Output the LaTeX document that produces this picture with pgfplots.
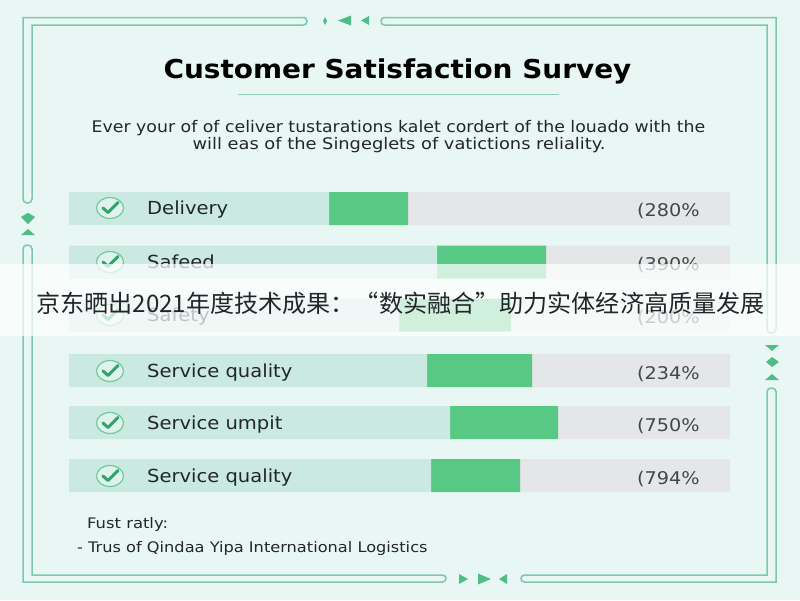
\documentclass[border=0pt]{standalone}
\usepackage{pgfplots}
\pgfplotsset{compat=1.18}
\usepackage{pgfplotstable}
\usepackage{fontspec}
\usepackage{graphicx}
\setmainfont{DejaVu Sans}
\newfontfamily\cjk{Noto Sans CJK SC}
\definecolor{bgc}{HTML}{E9F7F4}
\definecolor{tint}{HTML}{C9E9E1}
\definecolor{fillg}{HTML}{58C985}
\definecolor{track}{HTML}{E4E6E8}
\definecolor{frame}{HTML}{7FC6AC}
\definecolor{tri}{HTML}{4FBD88}
\definecolor{chk}{HTML}{2FA56C}
\definecolor{ink}{HTML}{22262A}
\pgfplotstableread{
y before done rest
208.5 260 79 322
262 368 109 184
315 330 112 219
370.5 358 105 198
422.5 381 108 172
475.5 362 89 210
}\bars
\newcommand{\fs}[1]{\fontsize{#1}{#1}\selectfont}
\newcommand{\wide}[2]{\scalebox{#1}[1]{#2}}
\begin{document}
\begin{tikzpicture}
\begin{scope}[x=1pt,y=-1pt]
\path[use as bounding box] (0,0) rectangle (800,600);
\fill[bgc] (0,0) rectangle (800,600);
\end{scope}
\begin{axis}[at={(0pt,0pt)},anchor=north west,scale only axis,width=800pt,height=600pt,
  xmin=-69,xmax=731,ymin=0,ymax=600,y dir=reverse,hide axis,
  xbar stacked,bar width=33pt,clip=false]
\addplot[draw=none,fill=tint,bar shift=0pt] table[x=before,y=y]{\bars};
\addplot[draw=none,fill=fillg,bar shift=0pt] table[x=done,y=y]{\bars};
\addplot[draw=none,fill=track,bar shift=0pt] table[x=rest,y=y]{\bars};
\end{axis}
\begin{scope}[x=1pt,y=-1pt]
% frame
\begin{scope}[draw=frame,line width=1.5pt,line join=miter]
\draw (300,17.5) [rounded corners=3.5pt] -- (307,17.5) -- (307,25) -- (300,25) [sharp corners] -- (32,25) -- (32,196) [rounded corners=4pt] -- (32,203) -- (23,203) -- (23,196) [sharp corners] -- (23,17.5) -- cycle;
\draw (23,252) [rounded corners=4pt] -- (23,245) -- (32,245) -- (32,252) [sharp corners] -- (32,575) -- (439,575) [rounded corners=3.5pt] -- (446,575) -- (446,582) -- (439,582) [sharp corners] -- (23,582) -- cycle;
\draw (528,582) [rounded corners=3.5pt] -- (521,582) -- (521,575) -- (528,575) [sharp corners] -- (767,575) -- (767,395) [rounded corners=4pt] -- (767,388) -- (776,388) -- (776,395) [sharp corners] -- (776,582) -- cycle;
\draw (776,326) [rounded corners=4pt] -- (776,333) -- (767,333) -- (767,326) [sharp corners] -- (767,25) -- (388,25) [rounded corners=3.5pt] -- (381,25) -- (381,17.5) -- (388,17.5) [sharp corners] -- (776,17.5) -- cycle;
\end{scope}
% ornaments
\fill[tri] (323,21) -- (325,17) -- (327,21) -- (325,25) -- cycle;
\fill[tri] (351,15.5) -- (351,25.5) -- (338,20.5) -- cycle;
\fill[tri] (369,16) -- (369,25) -- (361,20.5) -- cycle;
\fill[tri] (459,574) -- (459,584) -- (468,579) -- cycle;
\fill[tri] (478,573.5) -- (478,584.5) -- (491,579) -- cycle;
\fill[tri] (507,574) -- (507,584) -- (499,579) -- cycle;
\fill[tri] (21,217) -- (27.5,213) -- (28.5,213) -- (35,217) -- (28,224) -- cycle;
\fill[tri] (21,235) -- (35,235) -- (28,229) -- cycle;
\fill[tri] (765,345) -- (779,345) -- (772,351) -- cycle;
\fill[tri] (772,357) -- (779,362) -- (772,367) -- (766,362) -- cycle;
\fill[tri] (765,380) -- (779,380) -- (772,374) -- cycle;
% title
\node[font=\fs{26}\bfseries,text=black,inner sep=0pt,anchor=base] at (397.5,78) {\wide{1.074}{Customer Satisfaction Survey}};
\draw[color=frame!85,line width=1pt] (238,94) -- (559,94);
\node[font=\fs{16},text=ink,inner sep=0pt,anchor=base] at (398.5,132) {\wide{1.083}{Ever your of of celiver tustarations kalet cordert of the louado with the}};
\node[font=\fs{16},text=ink,inner sep=0pt,anchor=base] at (399,149) {\wide{1.113}{will eas of the Singeglets of vatictions reliality.}};
% icons
\foreach \cy in {208,262,315,371,423,476}{
  \draw[color=tri!80,fill=tint!60,line width=1.2pt] (110,\cy) ellipse [x radius=13.5pt,y radius=10.5pt];
  \draw[color=chk,line width=3pt,line join=round,line cap=round] (103,\cy) -- (108,\cy+4.5) -- (118,\cy-5.5);
}
% labels
\foreach \cy/\lab/\val in {208/Delivery/(280\%,262/Safeed/(390\%,315/Safety/(200\%,371/Service quality/(234\%,423/Service umpit/(750\%,476/Service quality/(794\%}{
  \node[font=\fs{18},text=ink,anchor=base west,inner sep=0pt] at (147,\cy+6) {\wide{1.085}{\lab}};
  \node[font=\fs{17.5},text=ink!85,anchor=base west,inner sep=0pt] at (637,\cy+8) {\wide{1.1}{\val}};
}
% footer
\node[font=\fs{14.5},text=ink,anchor=base west,inner sep=0pt] at (87,528) {\wide{1.13}{Fust ratly:}};
\node[font=\fs{14.5},text=ink,anchor=base west,inner sep=0pt] at (77,552) {\wide{1.117}{- Trus of Qindaa Yipa International Logistics}};
% band
\fill[white,opacity=0.72] (0,264) rectangle (800,336);
\node[font=\fs{24.1}\cjk,text=ink,inner sep=0pt] at (400.5,303) {京东晒出2021年度技术成果：“数实融合”助力实体经济高质量发展};
\end{scope}
\end{tikzpicture}
\end{document}
